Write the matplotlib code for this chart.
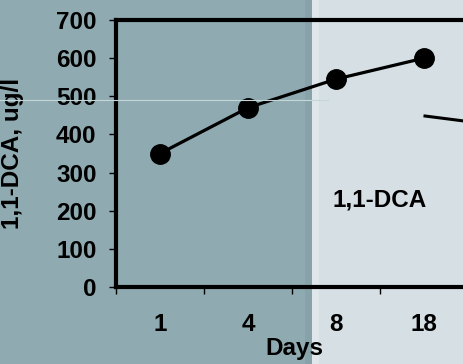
import matplotlib
matplotlib.use('Agg')
import matplotlib.pyplot as plt
from matplotlib.patches import Rectangle
from matplotlib.lines import Line2D

# Data
days = ['1', '4', '8', '18']
dca = [350, 470, 545, 600]
y_ticks = [0, 100, 200, 300, 400, 500, 600, 700]

plt.rcParams['font.family'] = ['Liberation Sans', 'DejaVu Sans']
plt.rcParams['font.weight'] = 'bold'

W, H = 464, 364
fig = plt.figure(figsize=(W / 100, H / 100), dpi=100)
fig.patch.set_facecolor('#d6e0e4')

# slide background: dark panel on the left, light on the right
fig.add_artist(Rectangle((0, 0), 312 / W, 1, transform=fig.transFigure,
                         facecolor='#8faab0', edgecolor='none', zorder=0))
fig.add_artist(Rectangle((305 / W, 0), 7 / W, 1, transform=fig.transFigure,
                         facecolor='#87a3a9', edgecolor='none', zorder=0))
fig.add_artist(Rectangle((312 / W, 0), 7 / W, 1, transform=fig.transFigure,
                         facecolor='#dfe7ea', edgecolor='none', zorder=0))
fig.add_artist(Line2D([0, 328 / W], [1 - 100 / H, 1 - 100 / H],
                      transform=fig.transFigure, color='#c4d6d6', lw=0.8, zorder=1))
fig.add_artist(Line2D([425 / W, 1], [1 - 116 / H, 1 - 121 / H],
                      transform=fig.transFigure, color='black', lw=2.2, zorder=1))

ax = fig.add_axes([116 / W, 77 / H, 352 / W, 267 / H])
ax.set_facecolor('none')
x = list(range(1, len(days) + 1))
ax.plot(x, dca, color='black', lw=2.3, marker='o', markersize=14, zorder=3)

ax.set_xlim(0.5, len(days) + 0.5)
ax.set_ylim(0, 700)
ax.set_yticks(y_ticks)
ax.set_yticklabels([str(v) for v in y_ticks])
ax.set_xticks([i + 0.5 for i in range(len(days))])
ax.set_xticklabels([])
ax.set_xticks(x, minor=True)
ax.set_xticklabels(days, minor=True)
ax.tick_params(axis='x', which='minor', length=0, pad=19, labelsize=17.5)
ax.tick_params(axis='x', which='major', length=5, width=1, direction='out')
ax.tick_params(axis='y', length=5, width=1, direction='out', pad=9, labelsize=17.5)

for s in ['left', 'bottom', 'top']:
    ax.spines[s].set_linewidth(3)
ax.spines['right'].set_visible(False)

ax.set_ylabel('1,1-DCA, ug/l', fontsize=17.5, fontweight='bold')
ax.yaxis.set_label_coords(-0.261, 0.5)
ax.set_xlabel('Days', fontsize=17.5, fontweight='bold')
ax.xaxis.set_label_coords(0.506, -0.232)
ax.xaxis.label.set_va('center')

ax.text(3.5, 228, '1,1-DCA', fontsize=17.5, fontweight='bold', ha='center', va='center')

fig.savefig('out.png', dpi=100, facecolor=fig.get_facecolor())
